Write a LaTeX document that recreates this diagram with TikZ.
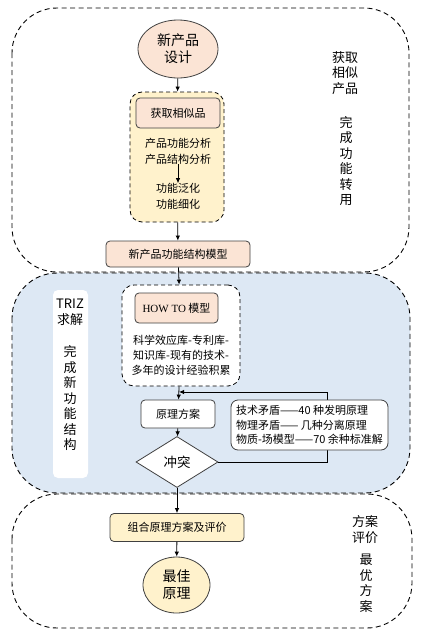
\documentclass[tikz,border=0pt]{standalone}
\usepackage{fontspec}
\setmainfont{Noto Sans CJK SC}
\newfontfamily\tnr{Liberation Serif}
\usetikzlibrary{shapes.geometric,arrows.meta}
\definecolor{pinkfill}{HTML}{FBE4D5}
\definecolor{yelfill}{HTML}{FFF2CC}
\definecolor{bluefill}{HTML}{DDE8F4}
\definecolor{linegray}{HTML}{404040}
\begin{document}
\begin{tikzpicture}[x=1pt,y=-1pt,
    region/.style={draw=black,dashed,dash pattern=on 5pt off 3.5pt,line width=0.9pt,rounded corners=45pt},
    box/.style={draw=linegray,line width=0.8pt,rounded corners=4pt,inner sep=1pt,font=\fontsize{11}{15}\selectfont,align=center},
    pinkbox/.style={box,fill=pinkfill},
    dashbox/.style={draw=black,dashed,dash pattern=on 4pt off 3pt,line width=0.8pt,rounded corners=12pt,inner sep=0pt},
    small/.style={font=\fontsize{11}{16}\selectfont,align=center,inner sep=0pt},
    side/.style={font=\fontsize{13}{15.5}\selectfont,align=center,inner sep=0pt},
    arr/.style={-{Latex[length=5pt,width=4.5pt]},line width=0.8pt}]
  \useasboundingbox (0,0) rectangle (427,637);
  % three stages
  \fill[bluefill,rounded corners=45pt] (12,273) rectangle (410,493);
  \draw[region] (12,8) rectangle (409,272);
  \draw[region] (12,273) rectangle (410,493);
  \draw[region] (12,494) rectangle (412,628);

  % stage 1
  \node (new) at (178,49) [ellipse,draw=linegray,line width=0.8pt,fill=pinkfill,minimum width=80pt,minimum height=58pt,inner sep=0pt,
    font=\fontsize{14}{17}\selectfont,align=center] {新产品\\设计};
  \node (ybox) at (177,157) [dashbox,fill=yelfill,minimum width=94pt,minimum height=130pt] {};
  \node (similar) at (178,113) [pinkbox,minimum width=84pt,minimum height=30pt] {获取相似品};
  \node (anal) at (178,151) [small] {产品功能分析\\产品结构分析};
  \node (gen) at (178,196.5) [small] {功能泛化\\功能细化};
  \node (model) at (178,254) [pinkbox,minimum width=144pt,minimum height=26pt] {新产品功能结构模型};
  \node (lab1) at (345,73) [side] {获取\\相似\\产品};
  \node (lab2) at (346,161) [side] {完\\成\\功\\能\\转\\用};
  \draw[arr] (new) -- (ybox);
  \draw[arr] (anal) -- (gen);
  \draw[arr] (ybox) -- (model);

  % stage 2
  \node (triz) at (70.5,384) [fill=white,rounded corners=5pt,minimum width=35pt,minimum height=188pt] {};
  \node (lab3) at (70,312.5) [side] {TRIZ\\求解};
  \node (lab4) at (70,398.5) [side] {完\\成\\新\\功\\能\\结\\构};
  \node (how) at (181,335.5) [dashbox,fill=white,minimum width=118pt,minimum height=101pt] {};
  \node (howto) at (176.5,308) [pinkbox,minimum width=83pt,minimum height=30pt] {{\tnr HOW TO} 模型};
  \node (kb) at (181,355) [small,font=\fontsize{11}{15}\selectfont] {科学效应库-专利库-\\知识库-现有的技术-\\多年的设计经验积累};
  \node (plan) at (178,414) [box,fill=white,minimum width=74pt,minimum height=28pt] {原理方案};
  \node (clash) at (177,462) [diamond,draw=linegray,line width=0.8pt,fill=white,minimum width=82pt,minimum height=51pt,inner sep=0pt,
    font=\fontsize{13.5}{15}\selectfont] {冲突};
  \coordinate (back) at (179,392);
  \draw[arr] (model) -- (how);
  \draw[arr] (how) -- (plan);
  \draw[arr] (plan) -- (clash);
  \draw[arr] (clash.east) -- (327,462) -- (327,392) -- (back);
  % drawn after the feedback line so that it hides it
  \node (tools) at (309.5,425) [box,fill=white,rounded corners=7pt,minimum width=157pt,minimum height=50pt,
    font=\fontsize{11}{14.5}\selectfont,align=left] {技术矛盾——40 种发明原理\\物理矛盾—— 几种分离原理\\物质-场模型——70 余种标准解};

  % stage 3
  \node (comb) at (177,527.5) [box,fill=yelfill,minimum width=134pt,minimum height=28pt] {组合原理方案及评价};
  \node (best) at (176.5,585) [ellipse,draw=linegray,line width=0.8pt,fill=yelfill,minimum width=67pt,minimum height=56pt,inner sep=0pt,
    font=\fontsize{14}{17}\selectfont,align=center] {最佳\\原理};
  \node (lab5) at (365,529.5) [side] {方案\\评价};
  \node (lab6) at (366,583.5) [side] {最\\优\\方\\案};
  \draw[arr] (clash) -- (comb);
  \draw[arr] (comb) -- (best);
\end{tikzpicture}
\end{document}
